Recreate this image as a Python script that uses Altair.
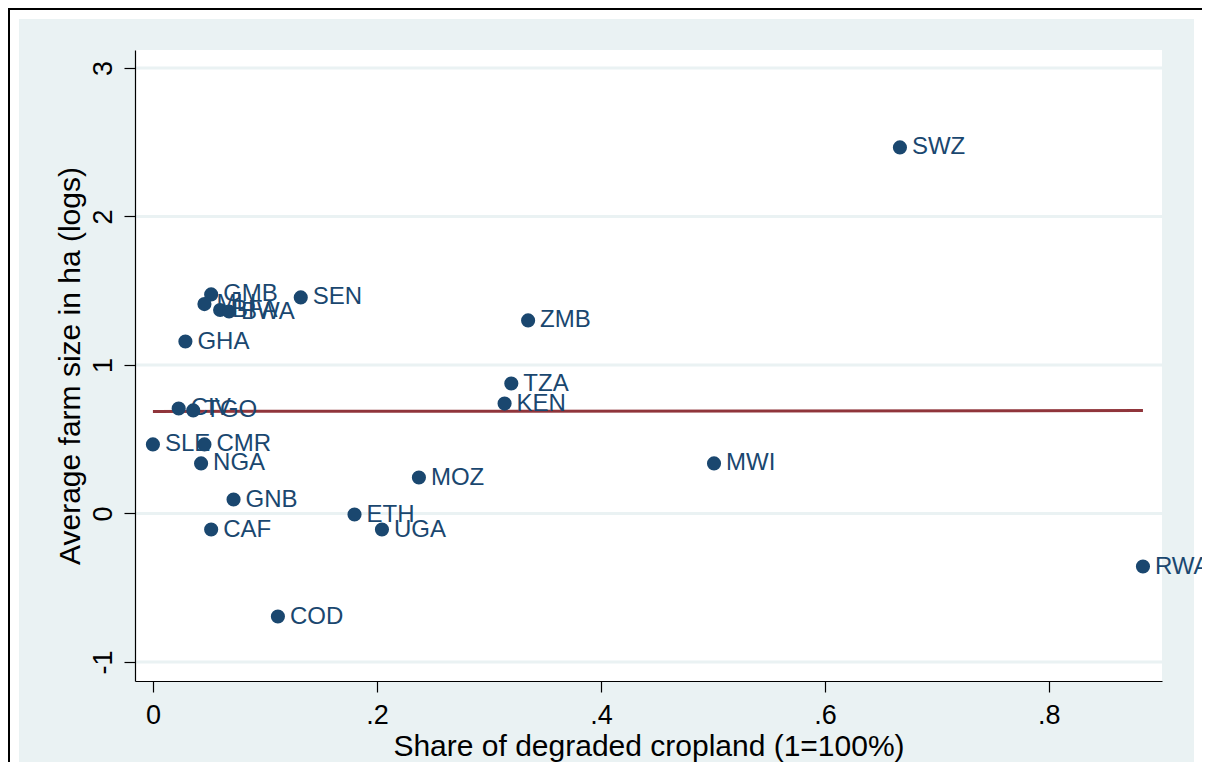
import altair as alt
import pandas as pd

countries = ["SWZ", "GMB", "SEN", "ZMB", "MLI", "BFA", "BWA", "GHA", "TZA", "KEN",
             "CIV", "TGO", "SLE", "CMR", "NGA", "MWI", "MOZ", "GNB", "ETH", "CAF",
             "UGA", "RWA", "COD"]
share_degraded = [0.667, 0.052, 0.132, 0.335, 0.046, 0.060, 0.068, 0.029, 0.320, 0.314,
                  0.023, 0.036, 0.000, 0.046, 0.043, 0.501, 0.2375, 0.072, 0.180, 0.052,
                  0.2045, 0.884, 0.1116]
farm_size_log = [2.465, 1.475, 1.455, 1.300, 1.410, 1.370, 1.360, 1.158, 0.875, 0.740,
                 0.707, 0.694, 0.465, 0.465, 0.337, 0.337, 0.242, 0.094, -0.007, -0.108,
                 -0.108, -0.357, -0.694]
fit_x = [0.0, 0.884]
fit_y = [0.687, 0.693]
y_ticks = [3, 2, 1, 0, -1]
x_ticks = [0, 0.2, 0.4, 0.6, 0.8]

W, H = 1027, 631
NAVY = "#1A476F"
BG = "#EAF2F3"
FONT = "Liberation Sans"

pts = pd.DataFrame({"c": countries, "x": share_degraded, "y": farm_size_log})
fit = pd.DataFrame({"x": fit_x, "y": fit_y})
grid = pd.DataFrame({"y": y_ticks})
one = pd.DataFrame({"a": [0]})

xs = alt.Scale(domain=[-0.016, 0.901], nice=False, zero=False)
ys = alt.Scale(domain=[-1.128, 3.121], nice=False, zero=False)

x_axis = alt.Axis(title="Share of degraded cropland (1=100%)", values=x_ticks,
                  labelExpr="replace(toString(datum.value), '0.', '.')",
                  tickSize=11, labelPadding=10, labelFontSize=27,
                  titleFontSize=30, titleX=W / 2, titleY=74,
                  titleBaseline="alphabetic", titleAlign="center",
                  grid=False, zindex=2)
y_axis = alt.Axis(title="Average farm size in ha (logs)", values=y_ticks,
                  labelExpr="toString(datum.value)",
                  labelAngle=270, labelAlign="center", labelBaseline="middle",
                  tickSize=11, labelPadding=21, labelFontSize=27,
                  titleFontSize=30, titleAngle=270, titleX=-56, titleY=H / 2,
                  titleBaseline="alphabetic", titleAlign="center",
                  grid=False, zindex=2)

bg = alt.Chart(one).mark_rect(color=BG).encode(
    x=alt.value(-116), x2=alt.value(1059), y=alt.value(-31), y2=alt.value(720))
plotbg = alt.Chart(one).mark_rect(color="white").encode(
    x=alt.value(0), x2=alt.value(W), y=alt.value(0), y2=alt.value(H))
border_left = alt.Chart(one).mark_rule(color="black", strokeWidth=3).encode(
    x=alt.value(-126.5), y=alt.value(-43), y2=alt.value(720))
border_top = alt.Chart(one).mark_rule(color="black", strokeWidth=3).encode(
    y=alt.value(-41.5), x=alt.value(-128), x2=alt.value(1080))

gridlines = alt.Chart(grid).mark_rule(color=BG, strokeWidth=3).encode(
    y=alt.Y("y:Q", scale=ys, axis=y_axis), x=alt.value(0), x2=alt.value(W))

points = alt.Chart(pts).mark_circle(size=200, color=NAVY, opacity=1).encode(
    x=alt.X("x:Q", scale=xs, axis=x_axis),
    y=alt.Y("y:Q", scale=ys, axis=y_axis),
)

labels = alt.Chart(pts).mark_text(align="left", baseline="middle", dx=12, fontSize=24,
                                  color=NAVY, font=FONT).encode(
    x=alt.X("x:Q", scale=xs, axis=x_axis), y=alt.Y("y:Q", scale=ys, axis=y_axis), text="c:N")

fitline = alt.Chart(fit).mark_line(color="#90353B", strokeWidth=3).encode(
    x=alt.X("x:Q", scale=xs, axis=x_axis), y=alt.Y("y:Q", scale=ys, axis=y_axis))

chart = alt.layer(bg, plotbg, border_left, border_top, gridlines, fitline, points, labels).properties(
    width=W, height=H,
    padding={"left": 127, "top": 42, "right": 40, "bottom": 81},
    autosize=alt.AutoSizeParams(type="none"),
    background="white",
).configure_view(stroke="transparent").configure_axis(
    domainColor="#000000", tickColor="#000000", labelColor="#000000",
    titleColor="#000000", labelFont=FONT, titleFont=FONT, titleFontWeight="normal",
    domainWidth=1.2, tickWidth=1.2)

chart.save("out.html", embed_options={"renderer": "svg", "actions": False})
